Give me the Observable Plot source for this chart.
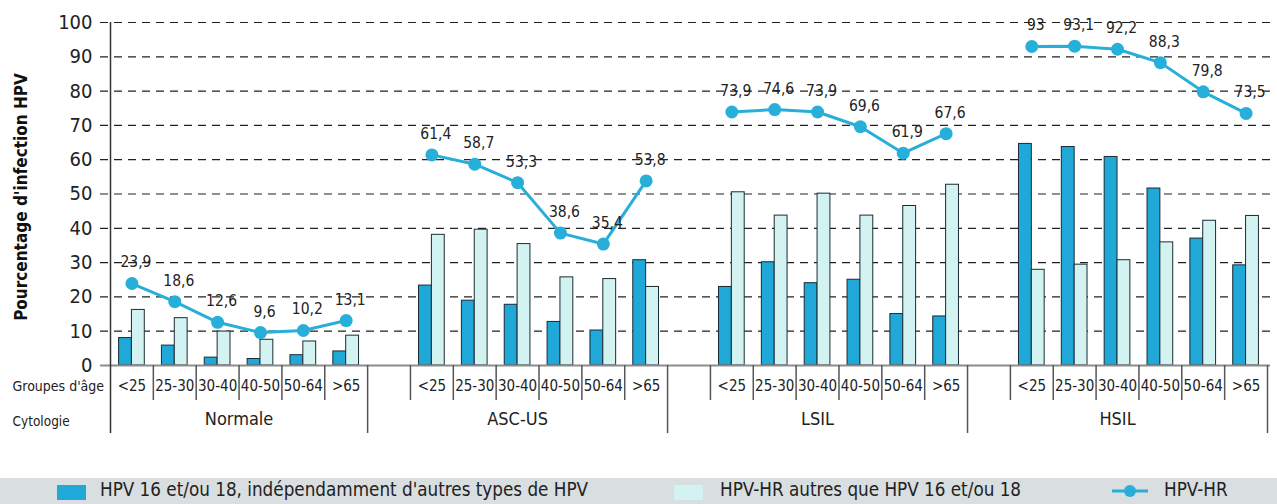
<!DOCTYPE html>
<html>
<head>
<meta charset="utf-8">
<script src="https://cdn.jsdelivr.net/npm/d3@7"></script>
<script src="https://cdn.jsdelivr.net/npm/@observablehq/plot@0.6"></script>
<style>
  body { margin: 0; background: #fff; font-family: "Liberation Sans Narrow", "DejaVu Sans Condensed", "Roboto", sans-serif; }
  #chart svg { display: block; }
  #legend { position: relative; margin-top: 8px; height: 26px; width: 1277px; background: #d9dee1; font-size: 18.7px; color: #222; }
  #legend .sw { position: absolute; top: 7px; width: 29px; height: 15px; }
  #legend .lb { position: absolute; top: 1px; white-space: nowrap; }
  #legend svg { position: absolute; top: 3px; }
</style>
</head>
<body>
<div id="chart"></div>
<div id="legend">
  <span class="sw" style="left:57px;background:#1fa8d8"></span>
  <span class="lb" style="left:100px" id="lg1"></span>
  <span class="sw" style="left:674px;background:#d3f2f2"></span>
  <span class="lb" style="left:720px" id="lg2"></span>
  <svg width="40" height="20" style="left:1110px"><line x1="2" y1="10" x2="38" y2="10" stroke="#27afd9" stroke-width="3"/><circle cx="20" cy="10" r="6" fill="#27afd9"/></svg>
  <span class="lb" style="left:1164px" id="lg3"></span>
</div>
<script>
// ---- data ----
const cytologies = ["Normale", "ASC-US", "LSIL", "HSIL"];
const ageGroups = ["<25", "25-30", "30-40", "40-50", "50-64", ">65"];
const seriesNames = [
  "HPV 16 et/ou 18, indépendamment d'autres types de HPV",
  "HPV-HR autres que HPV 16 et/ou 18",
  "HPV-HR"
];
// values ordered by cytology, then age group
const hpv1618 = [
  8.0, 5.8, 2.3, 1.9, 3.0, 4.1,
  23.3, 18.9, 17.7, 12.7, 10.2, 30.7,
  22.9, 30.1, 24.0, 25.0, 15.0, 14.3,
  64.6, 63.7, 60.8, 51.6, 37.0, 29.2
];
const hpvHRAutres = [
  16.2, 13.8, 9.9, 7.5, 7.0, 8.7,
  38.1, 39.6, 35.4, 25.7, 25.2, 22.9,
  50.5, 43.7, 50.1, 43.7, 46.5, 52.7,
  27.9, 29.4, 30.7, 35.9, 42.2, 43.6
];
const hpvHR = [
  23.9, 18.6, 12.6, 9.6, 10.2, 13.1,
  61.4, 58.7, 53.3, 38.6, 35.4, 53.8,
  73.9, 74.6, 73.9, 69.6, 61.9, 67.6,
  93, 93.1, 92.2, 88.3, 79.8, 73.5
];
const yTicks = d3.range(0, 101, 10);
const yTitle = "Pourcentage d'infection HPV";
const rowTitles = ["Groupes d'âge", "Cytologie"];

document.getElementById("lg1").textContent = seriesNames[0];
document.getElementById("lg2").textContent = seriesNames[1];
document.getElementById("lg3").textContent = seriesNames[2];

// ---- layout of slots: each cytology after the first is preceded by an empty slot ----
const groupStart = cytologies.map((c, g) => g === 0 ? 0 : ageGroups.length + (ageGroups.length + 1) * (g - 1));
const groupEnd = cytologies.map((c, g) => groupStart[g] + ageGroups.length + (g === 0 ? 0 : 1));
const nSlots = groupEnd[groupEnd.length - 1];

const rows = [];
cytologies.forEach((c, g) => {
  ageGroups.forEach((a, i) => {
    const k = g * ageGroups.length + i;
    rows.push({
      cyto: c, age: a,
      slot: groupEnd[g] - ageGroups.length + i,
      dark: hpv1618[k], light: hpvHRAutres[k], hr: hpvHR[k],
      label: String(hpvHR[k]).replace(".", ",")
    });
  });
});
const groups = cytologies.map((c, g) => ({cyto: c, mid: (groupStart[g] + groupEnd[g]) / 2}));
const longSeps = groupEnd;
const shortSeps = d3.range(1, nSlots).filter(s => !longSeps.includes(s));

const blue = "#27afd9";
const font = '"Liberation Sans Narrow", "DejaVu Sans Condensed", Roboto, sans-serif';

const chart = Plot.plot({
  width: 1277,
  height: 470,
  marginLeft: 110,
  marginRight: 10,
  marginTop: 22,
  marginBottom: 105,
  style: {fontFamily: font, color: "#222", background: "#fff"},
  x: {domain: [0, nSlots], axis: null},
  y: {domain: [0, 100], axis: null},
  marks: [
    Plot.ruleY(yTicks.filter(t => t > 0), {stroke: "#222", strokeWidth: 1.2, strokeDasharray: "8,6", insetLeft: -10, insetRight: -3}),
    Plot.axisY({ticks: yTicks, tickSize: 0, tickPadding: 18, fontSize: 20, label: null}),
    Plot.text([yTitle], {frameAnchor: "left", textAnchor: "middle", rotate: -90, dx: -89, dy: 3, fontSize: 17, fontWeight: "bold", fill: "#111"}),
    Plot.rectY(rows, {x1: d => d.slot + 0.2, x2: d => d.slot + 0.5, y: "dark", fill: "#1fa8d8", stroke: "#1b2b33", strokeWidth: 1}),
    Plot.rectY(rows, {x1: d => d.slot + 0.5, x2: d => d.slot + 0.8, y: "light", fill: "#d3f2f2", stroke: "#1b2b33", strokeWidth: 1}),
    Plot.ruleY([0], {stroke: "#8c8c8c", strokeWidth: 2, insetLeft: -10, insetRight: -3}),
    Plot.ruleX([0], {stroke: "#333", strokeWidth: 1.5, insetBottom: -68}),
    Plot.ruleX(longSeps, {y1: 0, y2: 0, insetBottom: -68, stroke: "#555", strokeWidth: 1.5}),
    Plot.ruleX(shortSeps, {y1: 0, y2: 0, insetBottom: -35, stroke: "#555", strokeWidth: 1.5}),
    Plot.line(rows, {x: d => d.slot + 0.5, y: "hr", z: "cyto", stroke: blue, strokeWidth: 3}),
    Plot.dot(rows, {x: d => d.slot + 0.5, y: "hr", r: 6.5, fill: blue}),
    Plot.text(rows, {x: d => d.slot + 0.5, y: "hr", text: "label", dy: -21, dx: 4, fontSize: 15.5, fill: "#222"}),
    Plot.text(rows, {x: d => d.slot + 0.5, text: "age", frameAnchor: "bottom", dy: 25, fontSize: 15, fill: "#222"}),
    Plot.text(groups, {x: "mid", text: "cyto", frameAnchor: "bottom", dy: 59, fontSize: 18, fill: "#222"}),
    Plot.text([rowTitles[0]], {frameAnchor: "bottom-left", textAnchor: "start", dx: -98, dy: 25, fontSize: 14, fill: "#222"}),
    Plot.text([rowTitles[1]], {frameAnchor: "bottom-left", textAnchor: "start", dx: -98, dy: 60, fontSize: 13.5, fill: "#222"})
  ]
});
document.getElementById("chart").appendChild(chart);
</script>
</body>
</html>
